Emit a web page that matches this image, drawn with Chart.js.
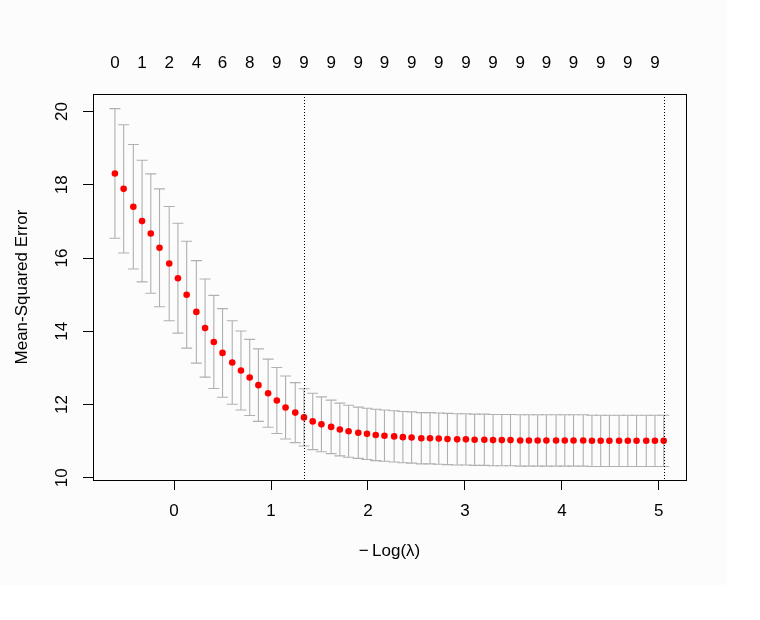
<!DOCTYPE html>
<html>
<head>
<meta charset="utf-8">
<script src="https://cdn.jsdelivr.net/npm/chart.js@4.4.1/dist/chart.umd.min.js"></script>
<style>
  html, body { margin: 0; padding: 0; background: #ffffff; }
  #wrap { width: 760px; height: 620px; }
</style>
</head>
<body>
<div id="wrap"><canvas id="c" width="760" height="620"></canvas></div>
<script>
// -Log(lambda) for each lambda on the path
const negLogLambda = [-0.61,-0.52,-0.42,-0.33,-0.24,-0.15,-0.05,0.04,0.13,0.23,
  0.32,0.41,0.50,0.60,0.69,0.78,0.87,0.97,1.06,1.15,
  1.25,1.34,1.43,1.52,1.62,1.71,1.80,1.90,1.99,2.08,
  2.17,2.27,2.36,2.45,2.55,2.64,2.73,2.82,2.92,3.01,
  3.10,3.20,3.29,3.38,3.47,3.57,3.66,3.75,3.84,3.94,
  4.03,4.12,4.22,4.31,4.40,4.49,4.59,4.68,4.77,4.87,
  4.96,5.05];
// cross-validated mean-squared error
const cvMse = [18.31,17.89,17.40,17.01,16.67,16.28,15.85,15.45,15.00,14.53,
  14.09,13.71,13.41,13.15,12.93,12.74,12.53,12.31,12.11,11.92,
  11.78,11.65,11.54,11.46,11.39,11.32,11.27,11.23,11.20,11.17,
  11.15,11.13,11.11,11.10,11.08,11.08,11.07,11.06,11.05,11.05,
  11.04,11.04,11.03,11.03,11.03,11.02,11.02,11.02,11.02,11.02,
  11.02,11.02,11.02,11.01,11.01,11.01,11.01,11.01,11.01,11.01,
  11.01,11.01];
// standard error of the CV estimate
const cvSe = [1.77,1.75,1.70,1.66,1.63,1.61,1.56,1.50,1.46,1.40,
  1.34,1.27,1.21,1.14,1.08,1.04,0.99,0.93,0.90,0.86,
  0.82,0.78,0.77,0.75,0.73,0.72,0.71,0.70,0.70,0.70,
  0.70,0.70,0.70,0.70,0.70,0.70,0.70,0.70,0.70,0.70,
  0.70,0.70,0.70,0.70,0.70,0.70,0.70,0.70,0.70,0.70,
  0.70,0.70,0.70,0.70,0.70,0.70,0.70,0.70,0.70,0.70,
  0.70,0.70];
// number of non-zero coefficients shown on the top axis (every 3rd lambda)
const nonZeroLabels = [0,1,2,4,6,8,9,9,9,9,9,9,9,9,9,9,9,9,9,9,9];
const topLabelStep = 3;
const xTickValues = [0,1,2,3,4,5];
const yTickValues = [10,12,14,16,18,20];
const lambda1seIndex = 21;
const lambdaMinIndex = 61;

const FONT = { family: "'Liberation Sans', Arial, Helvetica, sans-serif", size: 17 };

const topTickPositions = nonZeroLabels.map((_, k) => negLogLambda[k * topLabelStep]);

const rPlot = {
  id: 'rPlot',
  beforeDraw(chart) {
    const ctx = chart.ctx;
    ctx.save();
    ctx.fillStyle = '#ffffff';
    ctx.fillRect(0, 0, chart.width, chart.height);
    ctx.fillStyle = '#fcfcfc';
    ctx.fillRect(0, 0, 727, 585);
    ctx.restore();
  },
  beforeDatasetsDraw(chart) {
    const ctx = chart.ctx, xs = chart.scales.x, ys = chart.scales.y;
    const span = Math.max(...negLogLambda) - Math.min(...negLogLambda);
    const halfW = 0.01 * span;
    ctx.save();
    ctx.strokeStyle = '#b0b0b0';
    ctx.lineWidth = 1.1;
    for (let i = 0; i < negLogLambda.length; i++) {
      const xv = negLogLambda[i];
      const px = xs.getPixelForValue(xv);
      const pl = xs.getPixelForValue(xv - halfW);
      const pr = xs.getPixelForValue(xv + halfW);
      const up = ys.getPixelForValue(cvMse[i] + cvSe[i]);
      const lo = ys.getPixelForValue(cvMse[i] - cvSe[i]);
      ctx.beginPath();
      ctx.moveTo(px, up); ctx.lineTo(px, lo);
      ctx.moveTo(pl, up); ctx.lineTo(pr, up);
      ctx.moveTo(pl, lo); ctx.lineTo(pr, lo);
      ctx.stroke();
    }
    ctx.restore();
  },
  afterDatasetsDraw(chart) {
    const ctx = chart.ctx, xs = chart.scales.x, a = chart.chartArea;
    ctx.save();
    ctx.strokeStyle = '#000000';
    ctx.lineWidth = 1;
    ctx.setLineDash([1, 2]);
    [lambdaMinIndex, lambda1seIndex].forEach(idx => {
      const px = Math.round(xs.getPixelForValue(negLogLambda[idx])) + 0.5;
      ctx.beginPath();
      ctx.moveTo(px, a.top); ctx.lineTo(px, a.bottom);
      ctx.stroke();
    });
    ctx.setLineDash([]);
    ctx.strokeRect(Math.round(a.left) + 0.5, Math.round(a.top) + 0.5,
                   Math.round(a.right - a.left), Math.round(a.bottom - a.top));
    ctx.restore();
  }
};

new Chart(document.getElementById('c'), {
  type: 'scatter',
  data: {
    datasets: [{
      data: negLogLambda.map((x, i) => ({ x: x, y: cvMse[i] })),
      backgroundColor: '#ff0000',
      borderWidth: 0,
      pointRadius: 3.3,
      pointHoverRadius: 3.3,
      xAxisID: 'x',
      yAxisID: 'y'
    }]
  },
  options: {
    responsive: false,
    animation: false,
    devicePixelRatio: 1,
    layout: { padding: { left: 0, right: 74, top: 0, bottom: 0 } },
    plugins: { legend: { display: false }, tooltip: { enabled: false } },
    scales: {
      x: {
        type: 'linear', position: 'bottom', min: -0.836, max: 5.28,
        afterBuildTicks: s => { s.ticks = xTickValues.map(v => ({ value: v })); },
        afterFit: s => { s.height = 140; },
        border: { display: false },
        grid: { display: true, drawOnChartArea: false, drawTicks: true, tickLength: 10, color: '#000000', lineWidth: 1 },
        ticks: { font: FONT, color: '#000000', padding: 11, maxRotation: 0, autoSkip: false },
        title: { display: true, text: '\u2212\u2009Log(\u03bb)', font: FONT, color: '#000000', padding: { top: 0, bottom: 58 } }
      },
      x2: {
        type: 'linear', axis: 'x', position: 'top', min: -0.836, max: 5.28,
        afterBuildTicks: s => { s.ticks = topTickPositions.map(v => ({ value: v })); },
        afterFit: s => { s.height = 94; },
        border: { display: false },
        grid: { display: false, drawTicks: false, tickLength: 0 },
        ticks: {
          font: FONT, color: '#000000', padding: 20, maxRotation: 0, autoSkip: false,
          callback: (v, i) => String(nonZeroLabels[i])
        }
      },
      y: {
        type: 'linear', position: 'left', min: 9.94, max: 20.48,
        afterBuildTicks: s => { s.ticks = yTickValues.map(v => ({ value: v })); },
        afterFit: s => { s.width = 93; },
        border: { display: false },
        grid: { display: true, drawOnChartArea: false, drawTicks: true, tickLength: 10, color: '#000000', lineWidth: 1 },
        ticks: { font: FONT, color: '#000000', padding: 11, minRotation: 90, maxRotation: 90, crossAlign: 'center', autoSkip: false },
        title: { display: true, text: 'Mean-Squared Error', font: FONT, color: '#000000', padding: { top: 12, bottom: 0 } }
      }
    }
  },
  plugins: [rPlot]
});
</script>
</body>
</html>
